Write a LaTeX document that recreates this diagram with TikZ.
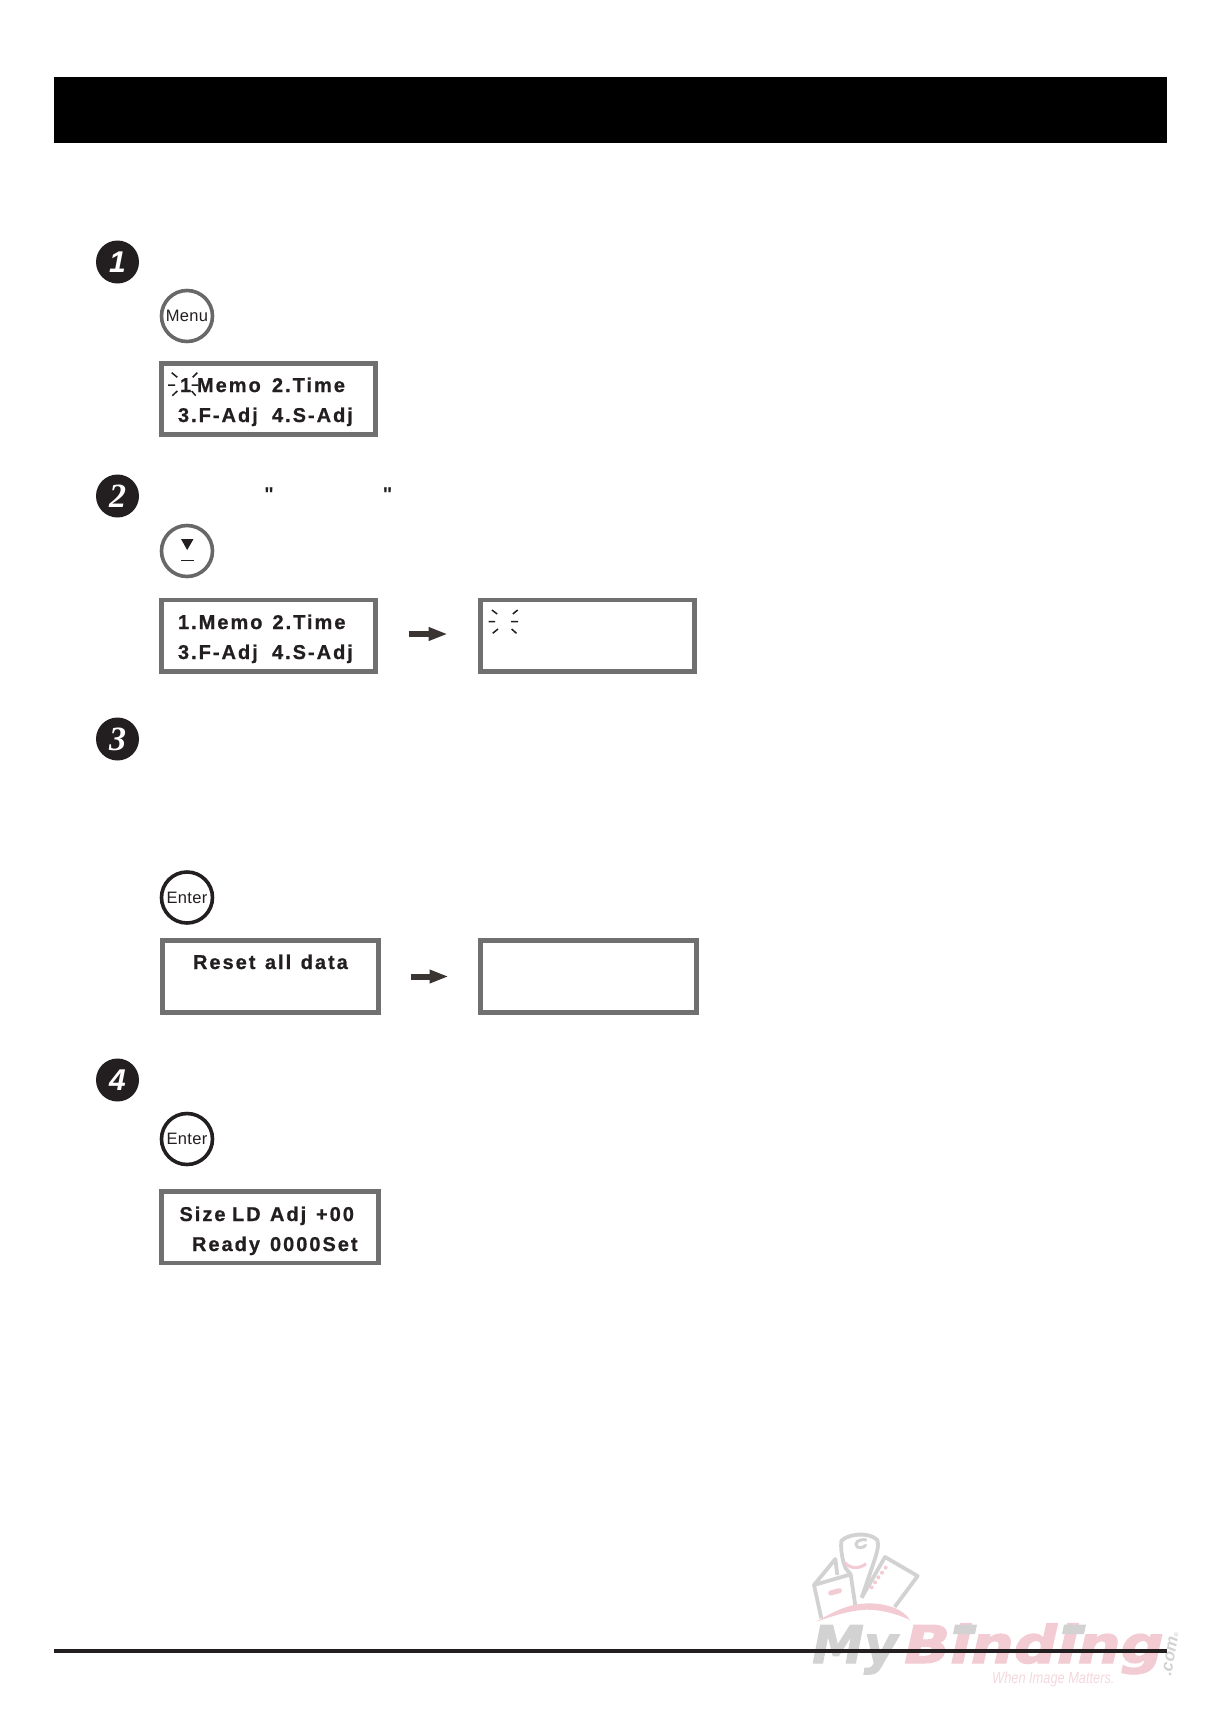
\documentclass[tikz,border=0pt]{standalone}
\usepackage{fontspec}
\usepackage{graphicx}
\usetikzlibrary{arrows.meta}
\setmainfont{Liberation Sans}
\newfontfamily\lcdf[LetterSpace=10,FakeBold=0.7]{Liberation Sans}
\newfontfamily\btnf[LetterSpace=2]{Liberation Sans}
\newfontfamily\plainf{Liberation Sans}
\newfontfamily\digf{Liberation Serif}
\newfontfamily\logof[FakeBold=2]{DejaVu Sans}
\definecolor{lcdgray}{HTML}{707070}
\definecolor{btngray}{HTML}{686868}
\definecolor{ink}{HTML}{231F20}
\definecolor{arrowink}{HTML}{3A3532}
\definecolor{wmgray}{HTML}{D2D2D2}
\definecolor{wmpink}{HTML}{F2CBD3}
\definecolor{wmtagc}{HTML}{F5D8DE}
\tikzset{
  lcd/.style={draw=lcdgray,line width=4.6pt,fill=white,rectangle,minimum width=#1,minimum height=71.5pt,inner sep=0pt,outer sep=0pt},
  lcd/.default=214pt,
  word/.style={anchor=base west,inner sep=0pt,outer sep=0pt,text=ink,font=\lcdf\bfseries\fontsize{20}{24}\selectfont},
  btn/.style={circle,draw=#1,line width=3.6pt,fill=white,minimum size=51pt,inner sep=0pt,text=ink,font=\btnf\fontsize{16.5}{20}\selectfont},
  badge/.style={circle,fill=ink,minimum size=43pt,inner sep=0pt,text=white,font=\digf\bfseries\itshape\fontsize{34}{38}\selectfont},
  badgesans/.style={badge,font=\plainf\bfseries\itshape\fontsize{30}{34}\selectfont},
  flow/.style={draw=arrowink,line width=6pt,-{Triangle[length=19pt,width=12.5pt]}},
  spark/.style={draw=ink,line width=1.5pt},
  quotemark/.style={anchor=base,inner sep=0pt,text=ink,font=\plainf\bfseries\fontsize{20}{24}\selectfont},
  wmline/.style={draw=wmgray,line width=3.8pt,line join=round},
  wmtext/.style={anchor=base west,inner sep=0pt,font=\logof\bfseries\itshape\fontsize{52}{56}\selectfont},
}
\begin{document}
\begin{tikzpicture}[x=1pt,y=-1pt]
\useasboundingbox (0,0) rectangle (1225,1732);
\fill[white] (0,0) rectangle (1225,1732);
% header band
\fill[black] (54,77) rectangle (1166.5,143);

% step badges
\node[badgesans] (s1) at (117.5,262) {1};
\node[badge] (s2) at (117.5,496) {2};
\node[badge] (s3) at (117.5,739) {3};
\node[badgesans] (s4) at (117.5,1080) {4};

% step 1
\node[btn=btngray] (menu) at (187,316) {Menu};
\node[lcd] (d1) at (268.6,399) {};
\node[word] (d1a) at (180,392) {1};
\node[word] (d1b) at (197,392) {Memo};
\node[word] (d1c) at (272,392) {2.Time};
\node[word] (d1d) at (178,422) {3.F-Adj};
\node[word] (d1e) at (272,422) {4.S-Adj};
\draw[spark] (168,385)--(175,385) (191.7,385)--(198.3,385)
  (171.7,372.7)--(177.3,377.3) (197.3,372.7)--(192.7,377.3)
  (172.3,395.7)--(177.3,391) (195.7,395.7)--(191.7,391);

% step 2
\node[quotemark] (q1) at (269,501) {"};
\node[quotemark] (q2) at (387.5,501) {"};
\node[btn=btngray] (down) at (187,551) {};
\fill[ink] (181,539) -- (193.5,539) -- (187.2,550) -- cycle;
\draw[ink,line width=1.5pt] (181,560.7) -- (193.5,560.7);
\node[lcd] (d2) at (268.6,635.8) {};
\node[word] (d2a) at (178,629) {1.Memo};
\node[word] (d2b) at (272.5,629) {2.Time};
\node[word] (d2c) at (178,659) {3.F-Adj};
\node[word] (d2d) at (272,659) {4.S-Adj};
\node[lcd] (d3) at (587.7,635.8) {};
\draw[spark] (488.6,621.7)--(495.2,621.7) (511,621.7)--(518,621.7)
  (491.9,610)--(497.2,614) (517.7,610)--(512.8,614)
  (492.7,633.3)--(498,629) (516.5,633.3)--(511.6,629);
\draw[flow,shorten <=33pt,shorten >=33pt] ([yshift=1.8pt]d2.east) -- ([yshift=1.8pt]d3.west);

% step 3
\node[btn=ink] (enter1) at (187,897.5) {Enter};
\node[lcd=216pt] (d4) at (270.6,976.5) {};
\node[word] (d4a) at (193,969) {\spaceskip=9.5pt Reset all data};
\node[lcd=216pt] (d5) at (588.6,976.5) {};
\draw[flow,shorten <=32.4pt,shorten >=32pt] (d4) -- (d5);

% step 4
\node[btn=ink] (enter2) at (187,1139) {Enter};
\node[lcd=217pt] (d6) at (270,1227.3) {};
\node[word] (d6a) at (179.5,1221) {Size};
\node[word] (d6b) at (232,1221) {LD};
\node[word] (d6c) at (270,1221) {Adj};
\node[word] (d6d) at (316,1221) {+00};
\node[word] (d6e) at (192,1251) {Ready};
\node[word] (d6f) at (270,1251) {0000Set};

% watermark logo
\begin{scope}[shift={(800,1525)},scale=1/3]
  \draw[wmline] (130,110) .. controls (124,85) and (122,65) .. (124,48)
     .. controls (140,28) and (205,18) .. (232,45) .. controls (238,60) and (230,85) .. (222,110)
     -- (185,218);
  \draw[wmline,line width=3pt] (200,45) .. controls (175,40) and (160,55) .. (172,66) .. controls (185,72) and (200,62) .. (196,58);
  \draw[wmline] (130,110) -- (137,130) -- (152,148);
  \draw[wmline] (112,150) -- (106,102) -- (42,180) -- (64,280);
  \draw[wmline] (42,180) -- (152,148) -- (166,242);
  \draw[wmline] (185,218) -- (255,96) -- (353,153) -- (284,246);
  \fill[wmpink] (50,290) .. controls (110,252) and (160,235) .. (205,235)
     .. controls (260,235) and (310,252) .. (330,285)
     .. controls (285,264) and (240,254) .. (200,254)
     .. controls (150,256) and (100,272) .. (50,290) -- cycle;
  \draw[wmpink,line width=5pt,line cap=round] (92,204) -- (118,197);
  \draw[wmpink,line width=3pt] (135,113) .. controls (150,132) and (180,132) .. (198,116);
  \foreach \px/\py in {257/128,246/143,235/157,225/172,215/187}
    \fill[wmpink] (\px,\py) circle (6);
\end{scope}
\node[wmtext,text=wmgray] (wmmy) at (812,1663) {My};
\node[wmtext,text=wmpink] (wmbind) at (904,1663) {\scalebox{1.16}[1]{Binding}};
\fill[wmgray] (953,1634) -- (975,1634) -- (977,1624.5) -- (955,1624.5) -- cycle;
\fill[wmgray] (1062,1634) -- (1084,1634) -- (1086,1624.5) -- (1064,1624.5) -- cycle;
\node[anchor=base west,inner sep=0pt,text=wmgray,rotate=80,font=\bfseries\itshape\fontsize{17}{20}\selectfont] (wmcom) at (1171,1677) {.com{\fontsize{6}{7}\selectfont ®}};
\node[anchor=base west,inner sep=0pt,text=wmtagc,font=\itshape\fontsize{16}{20}\selectfont] (wmtag) at (992,1683) {\scalebox{0.8}[1]{When Image Matters.}};

% footer rule
\draw[draw=ink,line width=3.4pt] (54,1651) -- (1166.5,1651);
\end{tikzpicture}
\end{document}
